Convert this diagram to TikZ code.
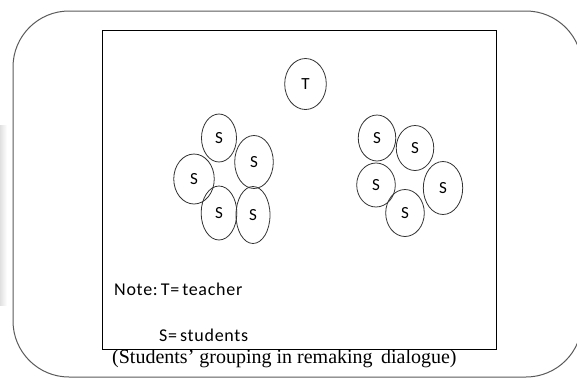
\documentclass[tikz,border=0pt]{standalone}
\usepackage{fontspec}
\usetikzlibrary{shapes.geometric}
\setmainfont{Liberation Serif}
\newfontfamily\labelfont{Carlito}[LetterSpace=4]
\begin{document}
\begin{tikzpicture}[x=1pt,y=-1pt,
  person/.style={draw=black!80,line width=0.8pt,ellipse,inner sep=0pt,
    minimum width=#1,font=\labelfont\fontsize{17}{19}\selectfont},
  person/.default=38pt,
  legend/.style={anchor=base west,inner sep=0pt,font=\labelfont\fontsize{18}{20}\selectfont}]
\useasboundingbox (0,0) rectangle (577,378);
% faint shade at the left margin
\fill[left color=black!12,right color=white] (0,125) rectangle (7,305);
% outer rounded frame (its right side runs past the page)
\draw[black!65,line width=1pt,rounded corners=56pt] (13,11) rectangle (582,377);
% inner frame
\draw[black,line width=0.8pt] (102,30) rectangle (496,349);
% teacher
\node[person=41.6pt,minimum height=51pt] (t) at (305.5,84) {T};
% left group of students
\node[person=35pt,minimum height=48pt] (a1) at (219,138) {S};
\node[person=38.6pt,minimum height=53pt] (a2) at (254,162) {S};
\node[person=40.5pt,minimum height=50pt] (a3) at (194,179) {S};
\node[person=35.7pt,minimum height=54pt] (a4) at (219,213) {S};
\node[person=34pt,minimum height=57pt] (a5) at (253,215) {S};
% right group of students
\node[person=37.5pt,minimum height=46pt] (b1) at (377,138) {S};
\node[person=37.5pt,minimum height=45pt] (b2) at (415,148) {S};
\node[person=38.6pt,minimum height=44pt] (b3) at (376,185) {S};
\node[person=39.4pt,minimum height=53pt] (b4) at (443,188) {S};
\node[person=38.6pt,minimum height=47pt] (b5) at (405,213) {S};
% legend
\node[legend] (n1) at (114,295) {Note:\,T=\,teacher};
\node[legend] (n2) at (159,341) {S=\,students};
% caption
\node[anchor=base west,inner sep=0pt,font=\fontsize{20}{22}\selectfont] (cap) at (112,363) {(Students’ grouping in remaking\, dialogue)};
\end{tikzpicture}
\end{document}
